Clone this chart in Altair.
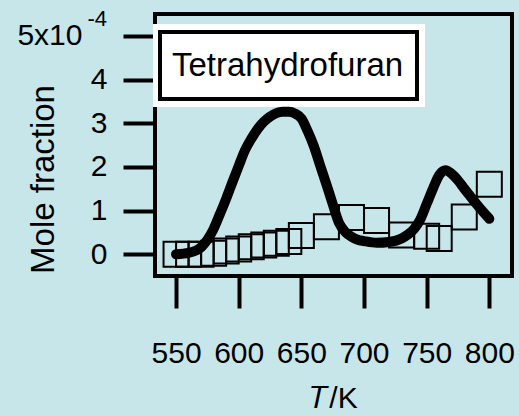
import altair as alt
import pandas as pd

# ---- data (mole fraction in units of 1e-4) ----
model_T = [550, 560, 570, 575, 580, 585, 590, 595, 600, 605, 610, 615, 620, 625,
           630, 635, 640, 645, 650, 655, 660, 665, 670, 675, 680, 685, 690, 695,
           700, 710, 720, 730, 735, 740, 745, 750, 755, 760, 765, 770, 775, 780,
           785, 790, 795, 800]
model_x = [0.0, 0.03, 0.16, 0.33, 0.58, 0.92, 1.27, 1.65, 2.02, 2.38, 2.64, 2.86,
           3.03, 3.15, 3.23, 3.26, 3.26, 3.22, 3.11, 2.82, 2.47, 2.03, 1.60, 1.15,
           0.72, 0.51, 0.40, 0.33, 0.30, 0.26, 0.28, 0.36, 0.45, 0.58, 0.80, 1.15,
           1.50, 1.81, 1.92, 1.84, 1.69, 1.50, 1.32, 1.14, 0.97, 0.81]

exp_T = [550, 560, 570, 580, 590, 600, 610, 620, 630, 640, 650, 670, 690, 710,
         730, 750, 760, 780, 800]
exp_x = [0.0, 0.0, 0.0, 0.02, 0.07, 0.12, 0.17, 0.21, 0.25, 0.29, 0.43, 0.63,
         0.84, 0.77, 0.44, 0.41, 0.36, 0.85, 1.6]

x_ticks = [550, 600, 650, 700, 750, 800]
y_ticks = [0, 1, 2, 3, 4, 5]
species = "Tetrahydrofuran"

FONT = "Liberation Sans"
BG = "#c7e6ea"

model_df = pd.DataFrame({"T": model_T, "x": model_x, "series": species})
exp_df = pd.DataFrame({"T": exp_T, "x": exp_x})

x_scale = alt.Scale(domain=[533.2, 818.1], nice=False, zero=False)
y_scale = alt.Scale(domain=[-0.5, 5.5], nice=False, zero=False)

x_axis = alt.Axis(
    values=x_ticks, title="𝑇/K", domain=False, grid=False,
    tickSize=32, tickWidth=4, tickColor="black",
    labelFont=FONT, labelFontSize=30, labelColor="black",
    labelBaseline="alphabetic", labelPadding=54,
    titleFont=FONT, titleFontSize=30, titleFontWeight="normal", titleColor="black",
    titleBaseline="alphabetic", titleY=131,
)
y_axis = alt.Axis(
    values=y_ticks, title="Mole fraction", domain=False, grid=False,
    tickSize=32, tickWidth=4, tickColor="black",
    labelFont=FONT, labelFontSize=30, labelColor="black",
    labelExpr="datum.value == 5 ? '5x10' : datum.label",
    labelPadding={"condition": {"test": "datum.value == 5", "value": 41}, "value": 16},
    titleFont=FONT, titleFontSize=33, titleFontWeight="normal", titleColor="black",
    titleAngle=270, titleBaseline="alphabetic", titleAlign="center",
    titleX=-102, titleY=165,
)

# legend box: white margin, black-framed white box, and the species name
legend_bg = alt.Chart(alt.Data(values=[{}])).mark_rect(color="white").encode(
    x=alt.value(-2), x2=alt.value(270), y=alt.value(10), y2=alt.value(93)
)
legend_box = alt.Chart(alt.Data(values=[{}])).mark_rect(
    fill="white", stroke="black", strokeWidth=4
).encode(x=alt.value(5), x2=alt.value(262), y=alt.value(18), y2=alt.value(85))
legend_text = alt.Chart(alt.Data(values=[{"name": species}])).mark_text(
    align="left", baseline="middle", font=FONT, fontSize=33, color="black"
).encode(text="name:N", x=alt.value(17), y=alt.value(52))

squares = alt.Chart(exp_df).mark_point(
    shape="square", filled=False, size=625, strokeWidth=2, color="black", opacity=1
).encode(
    x=alt.X("T:Q", scale=x_scale, axis=x_axis),
    y=alt.Y("x:Q", scale=y_scale, axis=y_axis),
)

line = alt.Chart(model_df).mark_line(
    strokeWidth=10, strokeCap="round", strokeJoin="round", interpolate="monotone",
    color="black"
).encode(
    x=alt.X("T:Q", scale=x_scale),
    y=alt.Y("x:Q", scale=y_scale),
)

superscript = alt.Chart(alt.Data(values=[{}])).mark_text(
    text="-4", align="right", baseline="alphabetic", font=FONT, fontSize=22,
    color="black"
).encode(x=alt.value(-48), y=alt.value(11.7))

chart = alt.layer(
    legend_bg, legend_box, legend_text, squares, line, superscript
).properties(
    width=357, height=262,
    padding={"left": 155, "top": 14, "right": 7, "bottom": 140},
    autosize=alt.AutoSizeParams(type="none"),
    background=BG,
).configure_view(stroke="black", strokeWidth=4, fill=None)

chart.save("out.html", embed_options={"renderer": "svg", "actions": False})
